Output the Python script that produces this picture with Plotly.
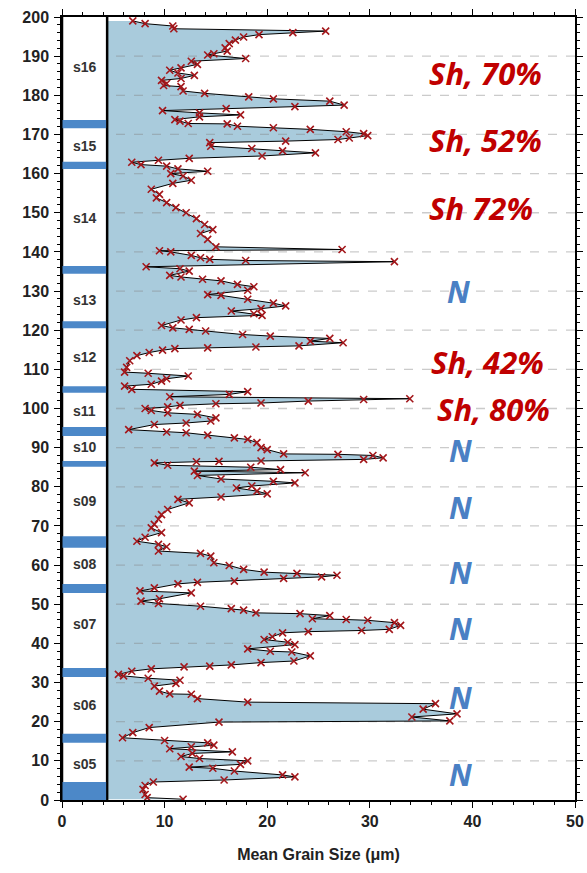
import plotly.graph_objects as go

# Core depth profile: depth (cm) and mean grain size (um)
depth = [
    199.0, 198.3, 197.7, 197.0, 196.4, 196.0, 195.5, 194.9, 194.1, 193.2,
    192.1, 191.3, 190.6, 190.3, 189.4, 188.7, 187.9, 187.0, 186.4, 185.7,
    185.1, 184.3, 183.8, 183.0, 182.5, 182.2, 181.1, 180.5, 179.6, 179.1,
    178.5, 177.5, 177.1, 176.6, 176.1, 175.5, 175.0, 174.5, 173.8, 173.4,
    172.8, 172.7, 172.1, 171.7, 171.3, 170.7, 170.2, 169.7, 169.1, 168.7,
    168.3, 167.9, 167.0, 166.4, 165.8, 165.3, 164.5, 163.9, 163.4, 162.9,
    162.3, 161.9, 161.2, 160.6, 160.0, 159.4, 158.3, 157.5, 156.0, 154.7,
    153.8, 152.6, 151.3, 150.0, 148.5, 147.0, 145.7, 144.7, 143.2, 141.3,
    140.6, 140.3, 140.0, 139.1, 138.5, 138.1, 137.8, 137.5, 136.2, 135.7,
    135.1, 134.0, 133.6, 133.0, 132.6, 131.7, 131.1, 130.2, 129.1, 128.9,
    127.9, 126.9, 126.2, 125.5, 124.9, 124.2, 123.8, 123.2, 122.6, 121.2,
    120.6, 120.2, 119.8, 118.9, 118.5, 117.9, 117.2, 116.8, 116.0, 115.7,
    115.5, 115.3, 114.9, 114.3, 113.5, 112.2, 110.5, 109.3, 109.0, 108.3,
    107.6, 107.0, 106.2, 105.7, 104.9, 104.3, 103.6, 103.0, 102.5, 102.3,
    101.9, 101.4, 101.2, 100.8, 100.4, 100.0, 99.5, 98.9, 98.5, 97.6,
    96.8, 96.3, 95.9, 94.6, 94.0, 93.8, 93.2, 92.5, 92.1, 91.3,
    90.0, 89.5, 88.4, 88.3, 88.0, 87.4, 87.0, 86.6, 86.5, 86.4,
    86.1, 85.5, 85.0, 84.4, 84.0, 83.6, 82.9, 82.0, 81.4, 81.0,
    80.2, 79.7, 78.9, 78.2, 77.4, 76.8, 75.9, 74.2, 72.9, 71.7,
    70.4, 69.5, 68.3, 67.1, 66.1, 65.3, 64.7, 63.6, 63.0, 62.3,
    60.6, 59.9, 58.9, 58.2, 57.9, 57.4, 57.0, 56.6, 55.9, 55.6,
    55.2, 54.2, 53.4, 52.9, 51.4, 50.8, 50.2, 49.5, 48.9, 48.5,
    47.8, 47.6, 47.1, 46.3, 46.1, 45.9, 45.3, 44.6, 43.6, 43.3,
    43.0, 42.7, 41.7, 41.0, 40.3, 39.7, 38.6, 38.0, 37.8, 36.8,
    35.5, 35.1, 34.5, 34.2, 34.0, 33.5, 32.9, 32.1, 31.7, 31.1,
    30.6, 29.8, 29.1, 27.8, 27.1, 27.0, 25.9, 25.0, 24.6, 23.2,
    22.0, 21.2, 20.2, 19.9, 18.5, 17.2, 15.9, 15.2, 14.6, 14.0,
    13.6, 13.1, 12.3, 11.9, 11.1, 10.6, 10.0, 9.1, 8.4, 8.1,
    7.4, 6.4, 5.9, 5.1, 4.6, 3.7, 2.7, 1.4, 0.6, 0.2,
]
grain_size = [
    6.9, 8.1, 10.8, 10.9, 25.7, 22.5, 19.2, 17.7, 16.9, 16.3,
    15.9, 16.1, 14.8, 14.2, 17.9, 12.6, 13.2, 11.6, 10.5, 11.3,
    12.9, 11.6, 9.7, 10.2, 9.9, 11.6, 11.8, 13.9, 18.2, 20.6,
    26.1, 27.5, 22.7, 16.0, 9.8, 13.4, 17.4, 13.4, 11.0, 11.5,
    12.3, 16.1, 17.1, 20.6, 24.2, 27.7, 29.4, 29.8, 28.0, 26.9,
    21.8, 14.4, 14.5, 18.5, 21.5, 24.7, 19.5, 12.4, 9.4, 6.8,
    7.7, 10.2, 11.3, 14.2, 10.6, 11.8, 12.6, 10.8, 8.7, 9.5,
    9.2, 10.2, 11.1, 12.1, 13.1, 13.9, 14.7, 13.5, 14.2, 15.0,
    27.3, 9.5, 10.6, 12.6, 13.5, 14.4, 17.9, 32.4, 8.2, 11.5,
    12.4, 10.5, 11.6, 13.7, 15.5, 17.1, 18.7, 18.1, 14.2, 15.5,
    18.1, 20.6, 21.8, 19.4, 16.5, 18.7, 19.5, 13.1, 11.6, 9.7,
    10.8, 12.4, 14.0, 17.6, 20.3, 26.1, 24.2, 27.4, 23.1, 18.9,
    14.2, 11.0, 9.8, 8.5, 7.3, 6.6, 6.3, 6.1, 8.4, 12.3,
    10.2, 9.7, 8.7, 6.1, 6.8, 18.1, 16.3, 10.5, 33.9, 29.4,
    24.0, 19.4, 15.0, 11.5, 10.3, 8.1, 8.7, 10.3, 13.2, 15.0,
    14.5, 12.1, 9.0, 6.5, 10.2, 12.1, 14.2, 16.8, 18.1, 19.0,
    19.4, 20.0, 21.6, 26.9, 30.3, 31.3, 29.4, 19.4, 15.3, 13.1,
    9.0, 10.3, 18.4, 21.3, 12.9, 23.7, 13.2, 15.5, 20.6, 22.7,
    18.5, 17.0, 19.0, 20.0, 15.5, 11.3, 12.4, 10.3, 9.7, 9.4,
    9.0, 8.7, 9.7, 8.1, 7.3, 9.4, 10.2, 9.4, 13.5, 14.5,
    14.8, 16.3, 17.7, 19.7, 22.9, 26.8, 25.3, 21.6, 16.8, 13.2,
    11.3, 9.0, 7.6, 12.6, 9.5, 7.7, 9.4, 13.5, 16.5, 17.7,
    18.9, 23.2, 26.1, 24.4, 27.7, 29.8, 32.4, 33.0, 31.9, 29.2,
    24.0, 21.5, 20.5, 19.7, 22.0, 22.7, 18.1, 20.3, 22.4, 24.2,
    22.6, 19.4, 16.5, 14.4, 11.9, 8.7, 6.8, 5.5, 6.0, 8.4,
    11.5, 11.1, 9.0, 9.5, 10.5, 12.6, 13.2, 18.1, 36.4, 35.2,
    38.5, 34.1, 37.8, 15.3, 8.5, 6.9, 5.9, 10.0, 14.2, 14.8,
    12.6, 10.5, 16.6, 12.7, 11.6, 13.4, 18.1, 17.4, 12.4, 14.7,
    16.8, 21.5, 22.7, 15.8, 8.9, 8.1, 7.9, 8.1, 8.3, 11.8,
]

# Stratigraphic units and the boundary layers between them
unit_names = ["s05", "s06", "s07", "s08", "s09", "s10",
              "s11", "s12", "s13", "s14", "s15", "s16"]
unit_label_depth = [9.1, 24.3, 45.0, 60.2, 76.4, 90.2,
                    99.4, 113.2, 127.7, 148.6, 167.1, 187.3]
boundary_bottom = [0.0, 14.6, 31.4, 52.9, 64.4, 85.1,
                   93.0, 104.0, 120.5, 134.4, 161.2, 171.6]
boundary_top = [4.6, 16.9, 33.7, 55.2, 67.4, 86.6,
                95.3, 105.7, 122.3, 136.4, 163.0, 173.7]

# Interpretation labels on the right-hand side
interp_text = ["Sh, 70%", "Sh, 52%", "Sh 72%", "N", "Sh, 42%", "Sh, 80%",
               "N", "N", "N", "N", "N", "N"]
interp_depth = [185.7, 168.6, 151.2, 129.8, 111.9, 99.9,
                89.4, 74.8, 58.2, 43.9, 26.3, 6.4]
interp_x = [41.3, 41.3, 40.8, 38.6, 41.5, 42.1,
            38.8, 38.8, 38.8, 38.8, 38.8, 38.8]

grid_depths = list(range(10, 200, 10))
col_right = 4.4

FILL = "#a9cbdc"
BAR_BLUE = "#4c88c8"
RED = "#c00000"
N_BLUE = "#4a80c4"
MARK = "#a3171b"

fig = go.Figure()

# Shaded area between the axis and the grain-size curve
fig.add_trace(go.Scatter(
    x=grain_size, y=depth, mode="none", fill="tozerox",
    fillcolor=FILL, hoverinfo="skip", showlegend=False,
))

# Dashed horizontal grid drawn over the shading
gx, gy = [], []
for d in grid_depths:
    gx += [0, 50, None]
    gy += [d, d, None]
fig.add_trace(go.Scatter(
    x=gx, y=gy, mode="lines",
    line=dict(color="rgba(130,130,130,0.42)", width=1.3, dash="dash"),
    hoverinfo="skip", showlegend=False,
))

# Grain-size curve with sample markers
fig.add_trace(go.Scatter(
    x=grain_size, y=depth, mode="lines+markers",
    line=dict(color="black", width=1),
    marker=dict(symbol="x-thin", size=7, color=MARK,
                line=dict(color=MARK, width=1.6)),
    showlegend=False,
))

shapes = []
# Unit column
shapes.append(dict(type="rect", xref="x", yref="y", x0=0, x1=col_right,
                   y0=0, y1=200.4, fillcolor="white",
                   line=dict(color="black", width=2.5), layer="above"))
for b0, b1 in zip(boundary_bottom, boundary_top):
    shapes.append(dict(type="rect", xref="x", yref="y", x0=0.05, x1=col_right - 0.1,
                       y0=b0, y1=b1, fillcolor=BAR_BLUE, line=dict(width=0),
                       layer="above"))

annotations = []
for name, d in zip(unit_names, unit_label_depth):
    annotations.append(dict(x=col_right / 2, y=d, xref="x", yref="y", text=name,
                            showarrow=False,
                            font=dict(family="Liberation Sans", size=14,
                                      color="#333333", weight="bold")))
for t, d, xx in zip(interp_text, interp_depth, interp_x):
    is_n = t == "N"
    annotations.append(dict(x=xx, y=d, xref="x", yref="y", text=t,
                            showarrow=False, xanchor="center", yanchor="middle",
                            borderpad=0,
                            font=dict(family="Noto Sans", size=30 if is_n else 31,
                                      color=N_BLUE if is_n else RED,
                                      weight="bold", style="italic")))

axis_common = dict(
    showline=True, linecolor="black", linewidth=1.5, mirror="allticks",
    ticks="outside", ticklen=6, tickwidth=1.3, tickcolor="black",
    showgrid=False, zeroline=False, automargin=False,
    tickfont=dict(family="Liberation Sans", size=16, color="#222222", weight="bold"),
)

fig.update_layout(
    width=587, height=873,
    margin=dict(l=62, r=12, t=17, b=73),
    paper_bgcolor="white", plot_bgcolor="white",
    xaxis=dict(range=[0, 50], dtick=10, tick0=0,
               minor=dict(dtick=2, ticks="outside", ticklen=3, tickcolor="black"),
               title=dict(text="Mean Grain Size (\u03bcm)", standoff=20,
                          font=dict(family="Liberation Sans", size=16,
                                    color="#222222", weight="bold")),
               **axis_common),
    yaxis=dict(range=[0, 200], dtick=10, tick0=0,
               minor=dict(dtick=2, ticks="outside", ticklen=3, tickcolor="black"),
               ticklabelstandoff=2,
               **axis_common),
    shapes=shapes,
    annotations=annotations,
)

fig.write_html("out.html")
